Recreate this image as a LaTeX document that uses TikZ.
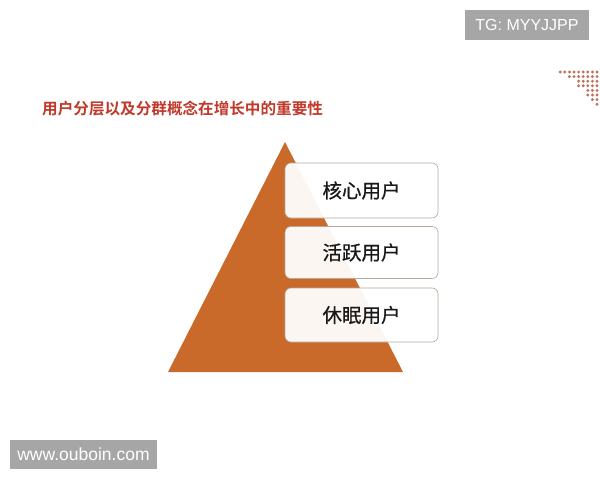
\documentclass[tikz,border=0pt]{standalone}
\usepackage{fontspec}
\setmainfont{Liberation Sans}
\newfontfamily\cjk[FakeBold=0.8]{Noto Sans CJK SC}
\newfontfamily\cjkb{Noto Sans CJK SC Bold}
\definecolor{tri}{HTML}{C96A2B}
\definecolor{titlered}{HTML}{C0392B}
\definecolor{wmgray}{HTML}{A6A6A6}
\definecolor{dotc}{HTML}{C0705A}
\definecolor{boxline}{HTML}{B8A89A}
\tikzset{
  layerbox/.style={draw=boxline, line width=0.6pt, fill=white, fill opacity=0.94, text opacity=1,
    rounded corners=6pt, minimum width=153pt, minimum height=54pt, inner sep=0pt,
    font=\cjk\fontsize{19.5}{19.5}\selectfont, text=black!90},
  wm/.style={fill=wmgray, text=white, inner sep=0pt},
  dotmark/.style={fill=dotc, draw=none}
}
\begin{document}
\begin{tikzpicture}[x=1pt,y=-1pt]
\useasboundingbox (0,0) rectangle (600,480);
\fill[white] (0,0) rectangle (600,480);
% watermark top
\node[wm, minimum width=124pt, minimum height=30pt, font=\fontsize{16}{16}\selectfont] (tg) at (527,25) {TG: MYYJJPP};
% dots
\foreach \r/\n in {0/9,1/7,2/5,3/5,4/3,5/3,6/2,7/1}{
  \foreach \c in {1,...,\n}{
    \fill[dotmark] ({597-(\c-1)*4.6},{72+\r*4.6}) circle (1.6pt);
  }
}
% title
\node[anchor=west, inner sep=0pt, text=titlered, font=\cjkb\fontsize{15.6}{15.6}\selectfont] (title) at (42,109) {用户分层以及分群概念在增长中的重要性};
% triangle
\coordinate (apex) at (285,142);
\coordinate (bl) at (168,372);
\coordinate (br) at (403,372);
\fill[tri] (apex) -- (br) -- (bl) -- cycle;
% boxes
\node[layerbox, minimum height=55pt] (b1) at (361.5,190.5) {核心用户};
\node[layerbox, minimum height=52pt] (b2) at (361.5,252.5) {活跃用户};
\node[layerbox, minimum height=54pt] (b3) at (361.5,315) {休眠用户};
% watermark bottom
\node[wm, minimum width=147pt, minimum height=29pt, font=\fontsize{17.5}{17.5}\selectfont] (www) at (83.5,454.5) {www.ouboin.com};
\end{tikzpicture}
\end{document}
